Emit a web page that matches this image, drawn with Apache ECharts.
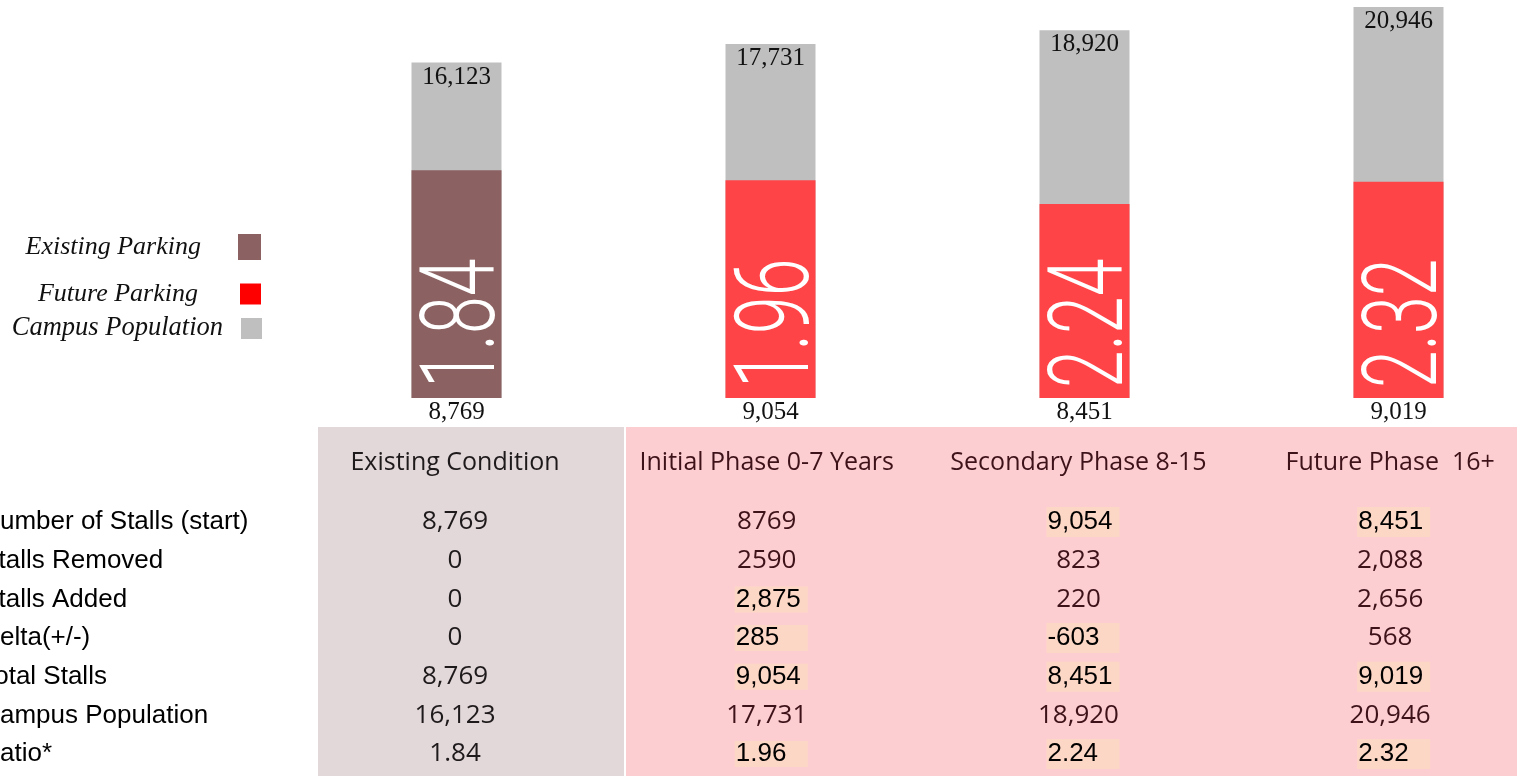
<!DOCTYPE html>
<html>
<head>
<meta charset="utf-8">
<title>Campus Parking Ratio by Phase</title>
<script src="https://cdn.jsdelivr.net/npm/echarts@6/dist/echarts.min.js"></script>
<style>
  html, body { margin: 0; padding: 0; background: #ffffff; }
  #chart { width: 1522px; height: 776px; }
</style>
</head>
<body>
<div id="chart"></div>
<script>
// ---- chart data ----
const phases = ['Existing Condition', 'Initial Phase 0-7 Years', 'Secondary Phase 8-15', 'Future Phase  16+'];
const existingParking = [8769, null, null, null];
const futureParking = [null, 9054, 8451, 9019];
const campusPopulation = [16123, 17731, 18920, 20946];
const parkingRatio = [1.84, 1.96, 2.24, 2.32];

// ---- table data ----
const rowLabels = ['Number of Stalls (start)', 'Stalls Removed', 'Stalls Added', 'Delta(+/-)', 'Total Stalls', 'Campus Population', 'Ratio*'];
const stallsStart   = ['8,769', '8769', '9,054', '8,451'];
const stallsRemoved = ['0', '2590', '823', '2,088'];
const stallsAdded   = ['0', '2,875', '220', '2,656'];
const stallsDelta   = ['0', '285', '-603', '568'];
const totalStalls   = ['8,769', '9,054', '8,451', '9,019'];
const populationRow = ['16,123', '17,731', '18,920', '20,946'];
const ratioRow      = ['1.84', '1.96', '2.24', '2.32'];
// cells [column, row] that carry a highlight fill
const highlighted = [[1, 2], [1, 3], [1, 4], [1, 6], [2, 0], [2, 3], [2, 4], [2, 6], [3, 0], [3, 4], [3, 6]];

const COLORS = {
  existing: '#8b6161',
  future: '#ff4448',
  futureKey: '#ff0000',
  population: '#bfbfbf'
};
const BAR_W = 90;
const SERIF = '"Liberation Serif", "Times New Roman", serif';
const fmt = v => Number(v).toLocaleString('en-US');

const chart = echarts.init(document.getElementById('chart'));

function toPairs(arr) {
  const out = [];
  arr.forEach((v, i) => { if (v != null) out.push([i, v]); });
  return out;
}

// gray population column with its value at the top
function populationItem(params, api) {
  const idx = api.value(0);
  const top = api.coord([idx, api.value(1)]);
  const bottom = params.coordSys.y + params.coordSys.height;
  return {
    type: 'group',
    children: [
      { type: 'rect', shape: { x: top[0] - BAR_W / 2, y: top[1], width: BAR_W, height: bottom - top[1] },
        style: { fill: COLORS.population } },
      { type: 'text', x: top[0], y: top[1] + 2,
        style: { text: fmt(api.value(1)), font: '25px ' + SERIF, fill: '#111', align: 'center', verticalAlign: 'top' } }
    ]
  };
}

// parking column with stall count below and the ratio written up the bar
function parkingItem(color) {
  return function (params, api) {
    const idx = api.value(0);
    const top = api.coord([idx, api.value(1)]);
    const bottom = params.coordSys.y + params.coordSys.height;
    return {
      type: 'group',
      children: [
        { type: 'rect', shape: { x: top[0] - BAR_W / 2, y: top[1], width: BAR_W, height: bottom - top[1] },
          style: { fill: color } },
        { type: 'text', x: top[0], y: bottom + 2,
          style: { text: fmt(api.value(1)), font: '25px ' + SERIF, fill: '#111', align: 'center', verticalAlign: 'top' } },
        { type: 'text', x: top[0] + 12, y: bottom - 10, rotation: Math.PI / 2, scaleX: 0.66,
          style: { text: parkingRatio[idx].toFixed(2), font: '300 103px Roboto, "Open Sans", sans-serif',
                   fill: '#ffffff', align: 'left', verticalAlign: 'middle' } }
      ]
    };
  };
}

// table cells
const tableRows = [stallsStart, stallsRemoved, stallsAdded, stallsDelta, totalStalls, populationRow, ratioRow];
const isHighlighted = (c, r) => highlighted.some(h => h[0] === c && h[1] === r);
const plainCells = [];
const markedCells = [];
tableRows.forEach((row, r) => {
  row.forEach((text, c) => {
    if (isHighlighted(c, r)) {
      const tall = c >= 2;
      markedCells.push({
        value: [c, r], text: text,
        label: tall
          ? { height: 22, lineHeight: 22, padding: [0, 0, 8, 1], offset: [c === 3 ? -33 : -32, 0] }
          : { height: 26, lineHeight: 26, padding: [0, 0, 0, 1], offset: [-32, 0] }
      });
    } else {
      plainCells.push({
        value: [c, r], text: text,
        label: { color: c === 0 ? '#1e1a1b' : '#3d1219' }
      });
    }
  });
});

const option = {
  backgroundColor: '#ffffff',
  animation: false,
  graphic: [
    { type: 'rect', z: -10, silent: true, shape: { x: 318, y: 427, width: 306, height: 349 }, style: { fill: '#e2d7d9' } },
    { type: 'rect', z: -10, silent: true, shape: { x: 626, y: 427, width: 891, height: 349 }, style: { fill: '#fdced1' } }
  ],
  legend: [
    { data: [{ name: 'Existing Parking', itemStyle: { color: COLORS.existing } }],
      right: 1261, top: 234, padding: 0, align: 'right', icon: 'rect', itemWidth: 23, itemHeight: 26,
      textStyle: { fontFamily: SERIF, fontStyle: 'italic', fontSize: 26, color: '#111', padding: [2, 32, 0, 0] } },
    { data: [{ name: 'Future Parking', itemStyle: { color: COLORS.futureKey } }],
      right: 1261, top: 281, padding: 0, align: 'right', icon: 'rect', itemWidth: 21, itemHeight: 21,
      textStyle: { fontFamily: SERIF, fontStyle: 'italic', fontSize: 26, color: '#111', padding: [0, 37, 0, 0] } },
    { data: [{ name: 'Campus Population', itemStyle: { color: COLORS.population } }],
      right: 1260, top: 315, padding: 0, align: 'right', icon: 'rect', itemWidth: 21, itemHeight: 21,
      textStyle: { fontFamily: SERIF, fontStyle: 'italic', fontSize: 26.5, color: '#111', padding: [0, 13, 0, 0] } }
  ],
  grid: [
    { left: 299.5, width: 1256, top: 0, height: 398, outerBoundsMode: 'none', containLabel: false },
    { left: 299.2, width: 1246.8, top: 502.7, height: 270.7, outerBoundsMode: 'none', containLabel: false }
  ],
  xAxis: [
    { type: 'category', gridIndex: 0, data: phases, show: false },
    { type: 'category', gridIndex: 1, data: phases, position: 'top',
      axisLine: { show: false }, axisTick: { show: false }, splitLine: { show: false },
      axisLabel: { interval: 0, hideOverlap: false, margin: 40, verticalAlign: 'middle',
                   fontFamily: '"Open Sans", sans-serif', fontSize: 25,
                   color: (v, i) => (i === 0 ? '#1e1a1b' : '#3d1219') } }
  ],
  yAxis: [
    { type: 'value', gridIndex: 0, min: -13035, max: 21550, show: false },
    { type: 'value', gridIndex: 0, min: 3515, max: 13642, show: false },
    { type: 'value', gridIndex: 0, min: 2975, max: 13102, show: false },
    { type: 'category', gridIndex: 1, data: rowLabels, inverse: true,
      axisLine: { show: false }, axisTick: { show: false }, splitLine: { show: false },
      axisLabel: { interval: 0, align: 'left', margin: 318,
                   fontFamily: '"Liberation Sans", Arial, sans-serif', fontSize: 26, color: '#000' } }
  ],
  series: [
    { name: 'Campus Population', type: 'custom', xAxisIndex: 0, yAxisIndex: 0, z: 2,
      itemStyle: { color: COLORS.population }, renderItem: populationItem, data: toPairs(campusPopulation) },
    { name: 'Future Parking', type: 'custom', xAxisIndex: 0, yAxisIndex: 1, z: 3,
      itemStyle: { color: COLORS.future }, renderItem: parkingItem(COLORS.future), data: toPairs(futureParking) },
    { name: 'Existing Parking', type: 'custom', xAxisIndex: 0, yAxisIndex: 2, z: 3,
      itemStyle: { color: COLORS.existing }, renderItem: parkingItem(COLORS.existing), data: toPairs(existingParking) },
    { name: 'table', type: 'scatter', xAxisIndex: 1, yAxisIndex: 3, symbolSize: 1, silent: true,
      itemStyle: { color: 'transparent' },
      label: { show: true, position: 'inside', formatter: p => p.data.text, opacity: 1, textBorderWidth: 0,
               fontFamily: '"Open Sans", sans-serif', fontSize: 26 },
      data: plainCells },
    { name: 'table-marked', type: 'scatter', xAxisIndex: 1, yAxisIndex: 3, symbolSize: 1, silent: true,
      itemStyle: { color: 'transparent' },
      label: { show: true, position: 'inside', formatter: p => p.data.text, align: 'left', verticalAlign: 'middle',
               width: 72, backgroundColor: '#fdd7c6', color: '#000', opacity: 1, textBorderWidth: 0,
               fontFamily: '"Liberation Sans", Arial, sans-serif', fontSize: 26 },
      data: markedCells }
  ]
};

chart.setOption(option);
</script>
</body>
</html>
